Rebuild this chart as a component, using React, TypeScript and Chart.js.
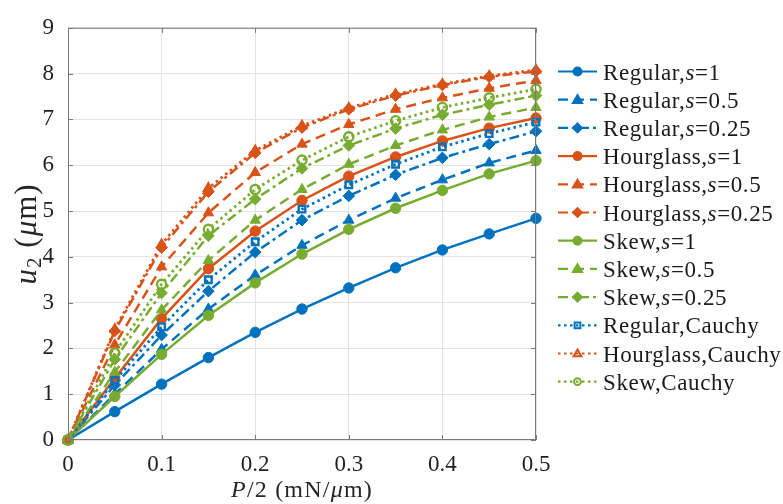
import React, { useEffect, useRef } from "react";
import { Chart, registerables } from "chart.js";
Chart.register(...registerables);

const P = [0, 0.05, 0.1, 0.15, 0.2, 0.25, 0.3, 0.35, 0.4, 0.45, 0.5];

const regularS1 = [0, 0.62, 1.22, 1.8, 2.35, 2.86, 3.32, 3.76, 4.15, 4.5, 4.84];
const regularS05 = [0, 1.0, 1.98, 2.86, 3.6, 4.25, 4.8, 5.28, 5.68, 6.05, 6.32];
const regularS025 = [0, 1.2, 2.29, 3.25, 4.1, 4.8, 5.33, 5.79, 6.16, 6.46, 6.74];
const hourS1 = [0, 1.35, 2.65, 3.74, 4.56, 5.23, 5.76, 6.18, 6.53, 6.81, 7.03];
const hourS05 = [0, 2.08, 3.78, 4.96, 5.84, 6.46, 6.89, 7.22, 7.47, 7.68, 7.85];
const hourS025 = [0, 2.38, 4.2, 5.42, 6.27, 6.82, 7.22, 7.52, 7.75, 7.93, 8.05];
const skewS1 = [0, 0.95, 1.87, 2.72, 3.43, 4.06, 4.6, 5.06, 5.45, 5.81, 6.1];
const skewS05 = [0, 1.48, 2.84, 3.92, 4.8, 5.47, 6.02, 6.43, 6.77, 7.05, 7.26];
const skewS025 = [0, 1.76, 3.21, 4.46, 5.26, 5.93, 6.43, 6.8, 7.1, 7.32, 7.52];
const regularCauchy = [0, 1.3, 2.47, 3.5, 4.33, 5.04, 5.57, 6.02, 6.4, 6.69, 6.94];
const hourCauchy = [0, 2.42, 4.27, 5.5, 6.32, 6.86, 7.25, 7.55, 7.77, 7.95, 8.08];
const skewCauchy = [0, 1.9, 3.4, 4.6, 5.47, 6.11, 6.62, 6.97, 7.26, 7.47, 7.66];

const xTicks = [0, 0.1, 0.2, 0.3, 0.4, 0.5];
const yTicks = [0, 1, 2, 3, 4, 5, 6, 7, 8, 9];

const BLUE = "#0072BD";
const ORANGE = "#D95319";
const GREEN = "#77AC30";
const SERIF = '"Liberation Serif", "Times New Roman", serif';

type Part = [string, string];
const N = "normal";
const I = "italic";

const DASHED = [10, 6];
const DASHDOT = [10, 4, 3, 4];
const DOTTED = [2.5, 3.5];

const seriesDefs = [
  { name: [["Regular,", N], ["s", I], ["=1", N]] as Part[], data: regularS1, color: BLUE, dash: [], pt: "circle", filled: true },
  { name: [["Regular,", N], ["s", I], ["=0.5", N]] as Part[], data: regularS05, color: BLUE, dash: DASHED, pt: "triangle", filled: true },
  { name: [["Regular,", N], ["s", I], ["=0.25", N]] as Part[], data: regularS025, color: BLUE, dash: DASHDOT, pt: "rectRot", filled: true },
  { name: [["Hourglass,", N], ["s", I], ["=1", N]] as Part[], data: hourS1, color: ORANGE, dash: [], pt: "circle", filled: true },
  { name: [["Hourglass,", N], ["s", I], ["=0.5", N]] as Part[], data: hourS05, color: ORANGE, dash: DASHED, pt: "triangle", filled: true },
  { name: [["Hourglass,", N], ["s", I], ["=0.25", N]] as Part[], data: hourS025, color: ORANGE, dash: DASHDOT, pt: "rectRot", filled: true },
  { name: [["Skew,", N], ["s", I], ["=1", N]] as Part[], data: skewS1, color: GREEN, dash: [], pt: "circle", filled: true },
  { name: [["Skew,", N], ["s", I], ["=0.5", N]] as Part[], data: skewS05, color: GREEN, dash: DASHED, pt: "triangle", filled: true },
  { name: [["Skew,", N], ["s", I], ["=0.25", N]] as Part[], data: skewS025, color: GREEN, dash: DASHDOT, pt: "rectRot", filled: true },
  { name: [["Regular,Cauchy", N]] as Part[], data: regularCauchy, color: BLUE, dash: DOTTED, pt: "rect", filled: false },
  { name: [["Hourglass,Cauchy", N]] as Part[], data: hourCauchy, color: ORANGE, dash: DOTTED, pt: "triangle", filled: false },
  { name: [["Skew,Cauchy", N]] as Part[], data: skewCauchy, color: GREEN, dash: DOTTED, pt: "circle", filled: false },
];

function drawRich(ctx: CanvasRenderingContext2D, parts: { t: string; style: string; size: number; dy?: number }[], x: number, y: number, align: "left" | "center", spacing = "0px") {
  ctx.save();
  (ctx as any).letterSpacing = spacing;
  ctx.textBaseline = "alphabetic";
  ctx.textAlign = "left";
  let total = 0;
  const widths = parts.map((p) => {
    ctx.font = `${p.style} ${p.size}px ${SERIF}`;
    const w = ctx.measureText(p.t).width;
    total += w;
    return w;
  });
  let cx = align === "center" ? x - total / 2 : x;
  parts.forEach((p, i) => {
    ctx.font = `${p.style} ${p.size}px ${SERIF}`;
    ctx.fillText(p.t, cx, y + (p.dy || 0));
    cx += widths[i];
  });
  ctx.restore();
}

function drawMarker(ctx: CanvasRenderingContext2D, pt: string, x: number, y: number, r: number, color: string, filled: boolean) {
  ctx.save();
  ctx.setLineDash([]);
  ctx.strokeStyle = color;
  ctx.fillStyle = filled ? color : "rgba(0,0,0,0)";
  ctx.lineWidth = 2;
  ctx.beginPath();
  if (pt === "circle") {
    ctx.arc(x, y, r, 0, Math.PI * 2);
  } else if (pt === "triangle") {
    ctx.moveTo(x, y - r * 1.15);
    ctx.lineTo(x + r * 1.15, y + r * 0.8);
    ctx.lineTo(x - r * 1.15, y + r * 0.8);
    ctx.closePath();
  } else if (pt === "rectRot") {
    ctx.moveTo(x, y - r * 1.1);
    ctx.lineTo(x + r * 1.1, y);
    ctx.lineTo(x, y + r * 1.1);
    ctx.lineTo(x - r * 1.1, y);
    ctx.closePath();
  } else {
    ctx.rect(x - r * 0.85, y - r * 0.85, r * 1.7, r * 1.7);
  }
  if (filled) ctx.fill();
  ctx.stroke();
  ctx.restore();
}

const decorPlugin = {
  id: "decor",
  afterDraw(chart: any) {
    const { ctx, chartArea } = chart;
    const { left, right, top, bottom } = chartArea;
    const xs = chart.scales.x;
    const ys = chart.scales.y;
    // box and inward ticks
    ctx.save();
    ctx.strokeStyle = "#7a7a7a";
    ctx.lineWidth = 1;
    ctx.strokeRect(left + 0.5, top + 0.5, right - left - 1, bottom - top - 1);
    ctx.beginPath();
    xTicks.forEach((v) => {
      const px = Math.round(xs.getPixelForValue(v)) + 0.5;
      ctx.moveTo(px, bottom);
      ctx.lineTo(px, bottom - 5);
      ctx.moveTo(px, top);
      ctx.lineTo(px, top + 5);
    });
    yTicks.forEach((v) => {
      const py = Math.round(ys.getPixelForValue(v)) + 0.5;
      ctx.moveTo(left, py);
      ctx.lineTo(left + 5, py);
      ctx.moveTo(right, py);
      ctx.lineTo(right - 5, py);
    });
    ctx.stroke();
    ctx.restore();

    // axis titles
    ctx.save();
    ctx.fillStyle = "#262626";
    drawRich(
      ctx,
      [
        { t: "P", style: I, size: 24 },
        { t: "/2 (mN/", style: N, size: 24 },
        { t: "μ", style: I, size: 24 },
        { t: "m)", style: N, size: 24 },
      ],
      (left + right) / 2,
      497,
      "center",
      "1.2px"
    );
    ctx.translate(36, (top + bottom) / 2);
    ctx.rotate(-Math.PI / 2);
    drawRich(
      ctx,
      [
        { t: "u", style: I, size: 31 },
        { t: "2", style: N, size: 21, dy: 5 },
        { t: " (", style: N, size: 31 },
        { t: "μ", style: I, size: 31 },
        { t: "m)", style: N, size: 31 },
      ],
      0,
      0,
      "center",
      "1px"
    );
    ctx.restore();

    // legend
    ctx.save();
    seriesDefs.forEach((s, i) => {
      const y = 71.5 + i * 28.2;
      ctx.save();
      ctx.strokeStyle = s.color;
      ctx.lineWidth = 2.2;
      ctx.setLineDash(s.dash);
      ctx.beginPath();
      ctx.moveTo(558, y);
      ctx.lineTo(597, y);
      ctx.stroke();
      ctx.restore();
      drawMarker(ctx, s.pt, 577.5, y, s.filled ? 4 : 3.4, s.color, s.filled);
      ctx.fillStyle = "#1a1a1a";
      drawRich(
        ctx,
        s.name.map((p) => ({ t: p[0], style: p[1], size: 23 })),
        603,
        y + 8,
        "left",
        "0.6px"
      );
    });
    ctx.restore();
  },
};

export default function App() {
  const ref = useRef<HTMLCanvasElement | null>(null);
  useEffect(() => {
    if (!ref.current) return;
    const n = seriesDefs.length;
    const chart = new Chart(ref.current, {
      type: "line",
      data: {
        datasets: seriesDefs.map((s, i) => ({
          label: s.name.map((p) => p[0]).join(""),
          data: P.map((x, k) => ({ x, y: s.data[k] })),
          borderColor: s.color,
          backgroundColor: s.filled ? s.color : "rgba(0,0,0,0)",
          borderWidth: s.filled ? 2.5 : 2.8,
          borderDash: s.dash,
          pointStyle: s.pt as any,
          pointRadius: s.filled ? (s.pt === "triangle" ? 6 : s.pt === "rectRot" ? 5.8 : 5.2) : 4.6,
          pointBorderWidth: s.filled ? 1 : 2.4,
          pointBorderColor: s.color,
          pointBackgroundColor: s.filled ? s.color : "rgba(0,0,0,0)",
          tension: 0,
          fill: false,
          clip: false as any,
          order: n - i,
        })),
      },
      options: {
        responsive: false,
        animation: false,
        devicePixelRatio: 1,
        layout: { padding: { left: 0, right: 247, top: 15, bottom: 0 } },
        plugins: { legend: { display: false }, tooltip: { enabled: false } },
        scales: {
          x: {
            type: "linear",
            min: 0,
            max: 0.5,
            afterFit: (scale: any) => {
              scale.height = 64;
            },
            afterBuildTicks: (scale: any) => {
              scale.ticks = xTicks.map((v) => ({ value: v }));
            },
            ticks: {
              font: { family: SERIF, size: 23 },
              color: "#1f1f1f",
              padding: 11,
              maxRotation: 0,
              callback: (v: any) => String(v),
            },
            grid: { color: "#e3e3e3", drawTicks: false, lineWidth: 1 },
            border: { display: false },
          },
          y: {
            type: "linear",
            min: 0,
            max: 9,
            afterFit: (scale: any) => {
              scale.width = 68;
            },
            afterBuildTicks: (scale: any) => {
              scale.ticks = yTicks.map((v) => ({ value: v }));
            },
            ticks: {
              font: { family: SERIF, size: 23 },
              color: "#1f1f1f",
              padding: 14,
              callback: (v: any) => String(v),
            },
            grid: { color: "#e3e3e3", drawTicks: false, lineWidth: 1 },
            border: { display: false },
          },
        },
      },
      plugins: [decorPlugin],
    });
    return () => chart.destroy();
  }, []);
  return (
    <div style={{ position: "absolute", left: 0, top: 0, width: 783, height: 504, background: "#fff" }}>
      <canvas ref={ref} width={783} height={504} />
    </div>
  );
}
